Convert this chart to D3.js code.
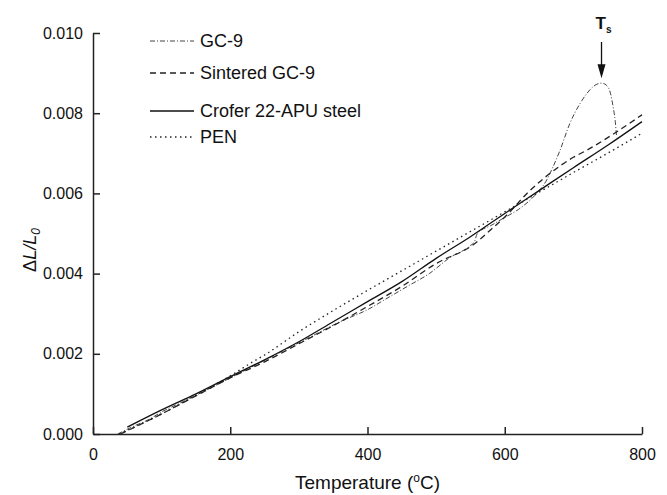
<!DOCTYPE html>
<html>
<head>
<meta charset="utf-8">
<script src="https://cdn.jsdelivr.net/npm/d3@7"></script>
<style>
  body { margin: 0; background: #fff; }
  svg { font-family: "Liberation Sans", Arial, sans-serif; }
</style>
</head>
<body>
<div id="chart"></div>
<script>
// GC-9 glass (dash-dot), rises to the softening peak Ts
const gc9T = [36, 60, 80, 100, 130, 160, 200, 240, 280, 320, 360, 400, 430, 460, 490, 520, 550, 556, 560, 580, 600, 620, 647, 660, 670, 680, 695, 710, 720, 730, 741, 748, 754, 758, 761, 763];
const gc9V = [0, 0.0002, 0.00035, 0.00055, 0.0008, 0.00105, 0.0014, 0.00175, 0.0021, 0.00245, 0.0028, 0.0031, 0.0034, 0.0037, 0.004, 0.0044, 0.0047, 0.0048, 0.005, 0.0052, 0.0054, 0.0056, 0.00601, 0.0063, 0.00665, 0.00705, 0.00775, 0.00825, 0.0085, 0.00868, 0.00875, 0.0087, 0.0085, 0.00815, 0.0078, 0.0074];

// Sintered GC-9 (dashed)
const sinteredT = [40, 100, 150, 200, 250, 300, 350, 400, 450, 500, 555, 580, 603, 633, 666, 700, 720, 760, 800];
const sinteredV = [0, 0.0005, 0.00095, 0.0014, 0.0018, 0.00225, 0.0027, 0.00318, 0.00368, 0.00425, 0.00473, 0.0051, 0.00546, 0.00601, 0.0065, 0.0069, 0.00708, 0.0075, 0.00796];

// Crofer 22-APU steel (solid)
const croferT = [50, 100, 150, 200, 250, 300, 350, 400, 450, 500, 550, 600, 650, 700, 750, 800];
const croferV = [0.00017, 0.0006, 0.001, 0.00143, 0.00185, 0.0023, 0.0028, 0.0033, 0.0038, 0.00438, 0.00492, 0.0055, 0.00607, 0.00664, 0.0072, 0.00779];

// PEN (dotted)
const penT = [38, 100, 150, 200, 233, 250, 300, 360, 400, 450, 500, 550, 600, 650, 700, 758, 800];
const penV = [0, 0.0005, 0.00097, 0.00145, 0.0018, 0.00197, 0.00255, 0.00318, 0.00358, 0.00407, 0.00456, 0.00505, 0.00554, 0.00603, 0.00652, 0.00708, 0.0075];

const xTicks = [0, 200, 400, 600, 800];
const yTicks = [0, 0.002, 0.004, 0.006, 0.008, 0.01];

const peakT = 741;
const peakV = 0.00875;

const width = 667;
const height = 495;
const margin = { top: 33, right: 25, bottom: 61, left: 93 };

const x = d3.scaleLinear().domain([0, 800]).range([margin.left, width - margin.right]);
const y = d3.scaleLinear().domain([0, 0.01]).range([height - margin.bottom, margin.top]);

const series = [
  { name: "GC-9", T: gc9T, V: gc9V, dash: "5,2,1,2", width: 1, color: "#444" },
  { name: "Sintered GC-9", T: sinteredT, V: sinteredV, dash: "6,4", width: 1.3, color: "#222" },
  { name: "Crofer 22-APU steel", T: croferT, V: croferV, dash: null, width: 1.3, color: "#111" },
  { name: "PEN", T: penT, V: penV, dash: "1.5,3.5", width: 1.3, color: "#222" },
];

const line = d3
  .line()
  .curve(d3.curveMonotoneX)
  .x((d) => x(d[0]))
  .y((d) => y(d[1]));

const svg = d3
  .select("#chart")
  .append("svg")
  .attr("width", width)
  .attr("height", height);

// axes (ticks point inward)
const xAxisG = svg
  .append("g")
  .attr("transform", `translate(0,${y(0)})`)
  .call(
    d3.axisBottom(x).tickValues(xTicks).tickSizeInner(-7).tickSizeOuter(0).tickPadding(12)
  );

const yAxisG = svg
  .append("g")
  .attr("transform", `translate(${x(0)},0)`)
  .call(
    d3.axisLeft(y).tickValues(yTicks).tickFormat(d3.format(".3f")).tickSizeInner(-7).tickSizeOuter(0).tickPadding(10)
  );

[xAxisG, yAxisG].forEach((g) => {
  g.select(".domain").attr("stroke", "#222").attr("stroke-width", 1.5);
  g.selectAll(".tick line").attr("stroke", "#222").attr("stroke-width", 1.5);
  g.selectAll(".tick text").attr("fill", "#111").attr("font-size", 16).attr("font-family", null);
});
xAxisG.selectAll(".tick text").attr("dy", "0.9em");

// axis titles
svg
  .append("text")
  .attr("x", (x(0) + x(800)) / 2)
  .attr("y", 489)
  .attr("text-anchor", "middle")
  .attr("font-size", 19)
  .attr("fill", "#111")
  .call((t) => {
    t.append("tspan").text("Temperature (");
    t.append("tspan").attr("font-size", 12).attr("dy", -7).text("o");
    t.append("tspan").attr("dy", 7).text("C)");
  });

svg
  .append("text")
  .attr("transform", `translate(36,${250}) rotate(-90)`)
  .attr("text-anchor", "middle")
  .attr("font-size", 18)
  .attr("fill", "#111")
  .call((t) => {
    t.append("tspan").text("\u0394");
    t.append("tspan").attr("font-style", "italic").text("L/L");
    t.append("tspan").attr("font-style", "italic").attr("font-size", 12).attr("dy", 4).text("0");
  });

// curves
svg
  .append("g")
  .attr("fill", "none")
  .selectAll("path")
  .data(series)
  .join("path")
  .attr("stroke", (d) => d.color)
  .attr("stroke-width", (d) => d.width)
  .attr("stroke-dasharray", (d) => d.dash)
  .attr("d", (d) => line(d.T.map((t, i) => [t, d.V[i]])));

// Ts marker
const arrowX = x(peakT);
const arrowTip = y(peakV) - 5;
svg
  .append("line")
  .attr("x1", arrowX)
  .attr("x2", arrowX)
  .attr("y1", 42)
  .attr("y2", arrowTip - 10)
  .attr("stroke", "#111")
  .attr("stroke-width", 1.3);
svg
  .append("path")
  .attr("d", `M${arrowX - 4},${arrowTip - 14}L${arrowX + 4},${arrowTip - 14}L${arrowX},${arrowTip}Z`)
  .attr("fill", "#111");
svg
  .append("text")
  .attr("x", arrowX - 6)
  .attr("y", 29)
  .attr("font-size", 17)
  .attr("font-weight", "bold")
  .attr("fill", "#111")
  .call((t) => {
    t.append("tspan").text("T");
    t.append("tspan").attr("font-size", 10).attr("dy", 4).text("s");
  });

// legend
const legendRows = [41, 73, 111, 137];
const legend = svg
  .append("g")
  .selectAll("g")
  .data(series)
  .join("g")
  .attr("transform", (d, i) => `translate(150,${legendRows[i]})`);

legend
  .append("line")
  .attr("x1", 0)
  .attr("x2", 44)
  .attr("stroke", (d) => d.color)
  .attr("stroke-width", (d) => d.width)
  .attr("stroke-dasharray", (d) => d.dash);

legend
  .append("text")
  .attr("x", 50)
  .attr("dy", "0.36em")
  .attr("font-size", 18)
  .attr("fill", "#111")
  .text((d) => d.name);
</script>
</body>
</html>
